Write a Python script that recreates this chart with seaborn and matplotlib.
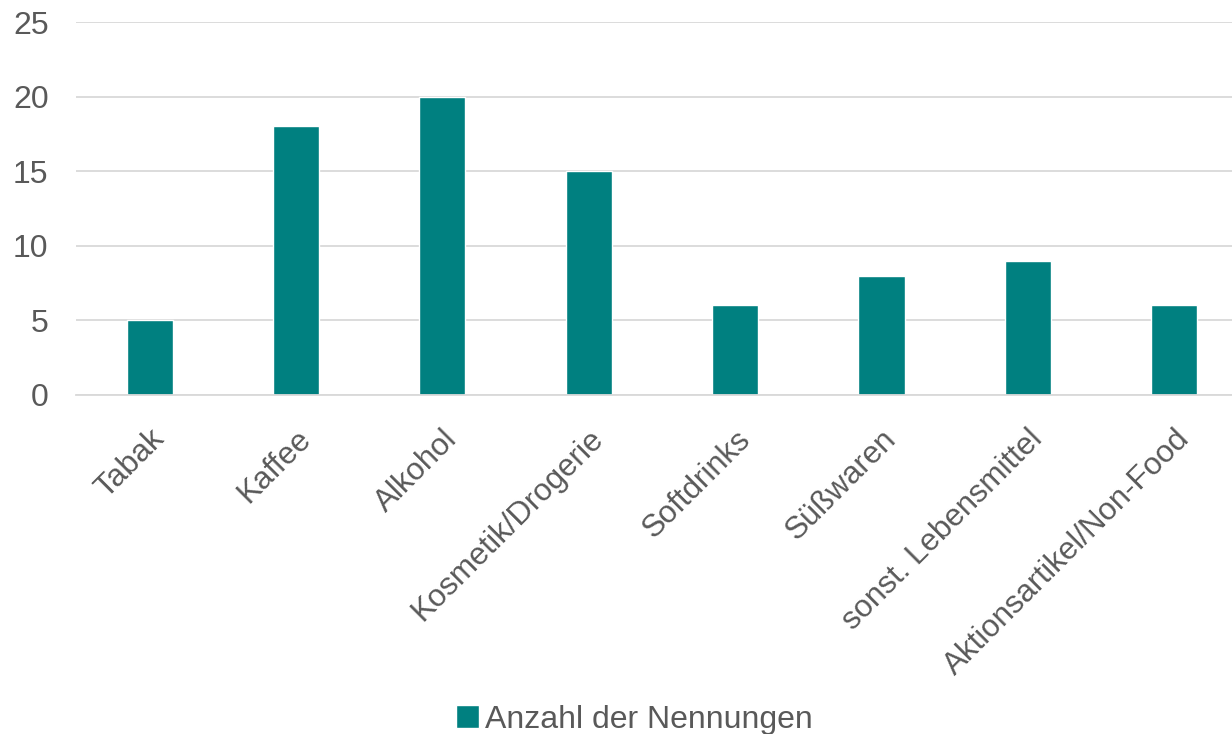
import matplotlib
matplotlib.use("Agg")
import numpy as np
import pandas as pd
import matplotlib.pyplot as plt
import seaborn as sns
from matplotlib.patches import Patch

categories = ["Tabak", "Kaffee", "Alkohol", "Kosmetik/Drogerie", "Softdrinks",
              "Süßwaren", "sonst. Lebensmittel", "Aktionsartikel/Non-Food"]
values = [5, 18, 20, 15, 6, 8, 9, 6]
series_name = "Anzahl der Nennungen"
yticks = [0, 5, 10, 15, 20, 25]

bar_color = "#008080"
text_color = "#595959"
grid_color = "#d9d9d9"

sns.set_style("white")
plt.rcParams["font.family"] = ["Liberation Sans", "DejaVu Sans"]

df = pd.DataFrame({"Kategorie": categories, "Wert": values})

fig = plt.figure(figsize=(12.32, 7.34), dpi=100)
ax = fig.add_axes([0.062, 0.462, 0.9505, 0.508])

sns.barplot(data=df, x="Kategorie", y="Wert", color=bar_color, width=0.315,
            saturation=1, ax=ax)

ax.set_ylim(0, 25)
ax.set_xlim(-0.5, len(categories) - 0.5)
ax.set_yticks(yticks)
ax.yaxis.grid(True, color=grid_color, linewidth=1.3)
ax.set_axisbelow(True)
for s in ["top", "right", "left"]:
    ax.spines[s].set_visible(False)
ax.spines["bottom"].set_color(grid_color)
ax.spines["bottom"].set_linewidth(1.3)

ax.set_xlabel("")
ax.set_ylabel("")
ax.tick_params(axis="y", length=0, labelsize=23, labelcolor=text_color, pad=20)
ax.tick_params(axis="x", which="major", length=0, labelsize=22.5,
               labelcolor=text_color, pad=21)
ax.set_xticks(np.arange(-0.5, len(categories)), minor=True)
ax.tick_params(axis="x", which="minor", length=9, color=grid_color, width=1.3)
plt.setp(ax.get_xticklabels(), rotation=45, ha="right", rotation_mode="anchor")

fig.legend(handles=[Patch(facecolor=bar_color, label=series_name)],
           loc="lower center", bbox_to_anchor=(0.515, -0.04), frameon=False,
           fontsize=23, labelcolor=text_color, handlelength=0.7,
           handleheight=0.7, handletextpad=0.2)

fig.savefig("out.png", dpi=100)
